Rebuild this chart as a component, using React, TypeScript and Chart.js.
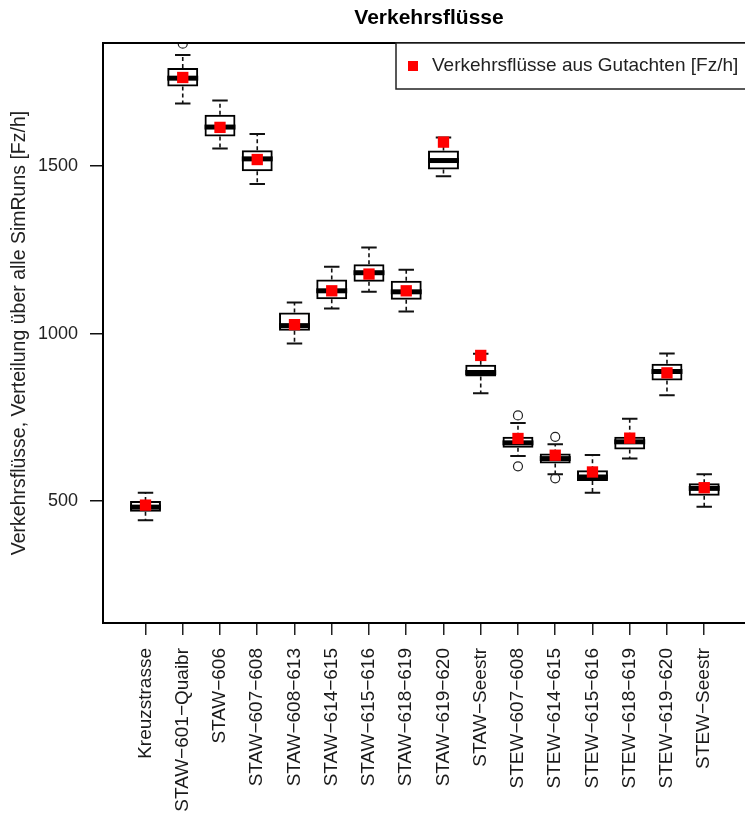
import React, { useEffect, useRef } from "react";
import { Chart, registerables } from "chart.js";

Chart.register(...registerables);

// ---------- data ----------
const categories = [
  "Kreuzstrasse",
  "STAW\u2212601\u2212Quaibr",
  "STAW\u2212606",
  "STAW\u2212607\u2212608",
  "STAW\u2212608\u2212613",
  "STAW\u2212614\u2212615",
  "STAW\u2212615\u2212616",
  "STAW\u2212618\u2212619",
  "STAW\u2212619\u2212620",
  "STAW\u2212Seestr",
  "STEW\u2212607\u2212608",
  "STEW\u2212614\u2212615",
  "STEW\u2212615\u2212616",
  "STEW\u2212618\u2212619",
  "STEW\u2212619\u2212620",
  "STEW\u2212Seestr",
];
const whiskerLow = [443, 1687, 1553, 1447, 971, 1075, 1125, 1066, 1470, 822, 635, 580, 525, 627, 816, 483];
const q1 = [468, 1738, 1589, 1485, 1009, 1103, 1155, 1101, 1490, 872, 659, 612, 560, 654, 860, 516];
const median = [482, 1763, 1617, 1522, 1024, 1128, 1182, 1125, 1517, 884, 674, 627, 572, 677, 887, 538];
const q3 = [500, 1793, 1654, 1548, 1063, 1162, 1207, 1158, 1547, 907, 692, 642, 592, 692, 910, 553];
const whiskerHigh = [525, 1832, 1696, 1596, 1093, 1200, 1257, 1191, 1586, 940, 733, 670, 638, 746, 941, 580];
const gutachten = [488, 1765, 1616, 1520, 1027, 1128, 1178, 1128, 1572, 935, 687, 637, 587, 688, 883, 540];
const outlierCategory = [1, 10, 10, 11, 11];
const outlierValue = [1866, 756, 604, 692, 568];
const yTicks = [500, 1000, 1500];

const titleText = "Verkehrsflüsse";
const yTitleText = "Verkehrsflüsse, Verteilung über alle SimRuns [Fz/h]";
const legendText = "Verkehrsflüsse aus Gutachten [Fz/h]";

const FONT = "'Liberation Sans', Arial, Helvetica, sans-serif";

const boxPlugin = {
  id: "boxExtras",
  beforeDatasetsDraw(chart: any) {
    const { ctx } = chart;
    const x = chart.scales.x;
    const y = chart.scales.y;
    const meta = chart.getDatasetMeta(0);
    ctx.save();
    categories.forEach((_, i) => {
      const bar: any = meta.data[i];
      const cx = x.getPixelForValue(i);
      const half = bar.width / 2;
      const capHalf = half / 2;
      const yq1 = y.getPixelForValue(q1[i]);
      const yq3 = y.getPixelForValue(q3[i]);
      const ylo = y.getPixelForValue(whiskerLow[i]);
      const yhi = y.getPixelForValue(whiskerHigh[i]);
      const ymed = y.getPixelForValue(median[i]);
      // dashed whiskers
      ctx.strokeStyle = "#111";
      ctx.lineWidth = 1.6;
      ctx.setLineDash([4, 3]);
      ctx.beginPath();
      ctx.moveTo(cx, yq3);
      ctx.lineTo(cx, yhi);
      ctx.moveTo(cx, yq1);
      ctx.lineTo(cx, ylo);
      ctx.stroke();
      // caps
      ctx.setLineDash([]);
      ctx.lineWidth = 2;
      ctx.beginPath();
      ctx.moveTo(cx - capHalf, yhi);
      ctx.lineTo(cx + capHalf, yhi);
      ctx.moveTo(cx - capHalf, ylo);
      ctx.lineTo(cx + capHalf, ylo);
      ctx.stroke();
      // median
      ctx.lineWidth = 5;
      ctx.strokeStyle = "#000";
      ctx.beginPath();
      ctx.moveTo(cx - half, ymed);
      ctx.lineTo(cx + half, ymed);
      ctx.stroke();
    });
    ctx.restore();
  },
  afterDraw(chart: any) {
    const { ctx, chartArea } = chart;
    const { left, top, bottom, right } = chartArea;
    ctx.save();
    // plot frame (right edge lies beyond the canvas)
    ctx.strokeStyle = "#000";
    ctx.lineWidth = 2;
    ctx.beginPath();
    ctx.moveTo(right + 20, top);
    ctx.lineTo(left, top);
    ctx.lineTo(left, bottom);
    ctx.lineTo(right + 20, bottom);
    ctx.stroke();

    // title
    ctx.fillStyle = "#000";
    ctx.font = `bold 21px ${FONT}`;
    ctx.textAlign = "center";
    ctx.textBaseline = "middle";
    ctx.fillText(titleText, 429, 18);

    // y-axis title
    ctx.save();
    ctx.translate(20, (top + bottom) / 2);
    ctx.rotate(-Math.PI / 2);
    ctx.font = `19.5px ${FONT}`;
    ctx.fillStyle = "#222";
    ctx.textAlign = "center";
    ctx.textBaseline = "middle";
    ctx.fillText(yTitleText, 0, 0);
    ctx.restore();

    // legend
    const lx = 396;
    const ly = top;
    const lh = 46;
    ctx.fillStyle = "#fff";
    ctx.fillRect(lx, ly, right - lx + 20, lh);
    ctx.strokeStyle = "#222";
    ctx.lineWidth = 1.5;
    ctx.strokeRect(lx, ly, right - lx + 20, lh);
    ctx.fillStyle = "#ff0000";
    ctx.fillRect(408, ly + lh / 2 - 5, 10, 10);
    ctx.fillStyle = "#222";
    ctx.font = `19px ${FONT}`;
    ctx.textAlign = "left";
    ctx.textBaseline = "middle";
    ctx.fillText(legendText, 432, ly + lh / 2);
    ctx.restore();
  },
};

export default function App() {
  const ref = useRef<HTMLCanvasElement | null>(null);

  useEffect(() => {
    document.body.style.margin = "0";
    const canvas = ref.current;
    if (!canvas) return;
    const chart = new Chart(canvas, {
      type: "bar",
      data: {
        datasets: [
          {
            type: "bar",
            label: "box",
            data: categories.map((_, i) => ({ x: i, y: [q1[i], q3[i]] })) as any,
            backgroundColor: "rgba(0,0,0,0)",
            borderColor: "#000",
            borderWidth: 2,
            borderSkipped: false,
            categoryPercentage: 1,
            barPercentage: 0.83,
            order: 3,
          } as any,
          {
            type: "scatter",
            label: "outliers",
            data: outlierValue.map((v, k) => ({ x: outlierCategory[k], y: v })),
            pointStyle: "circle",
            pointRadius: 4.5,
            backgroundColor: "rgba(0,0,0,0)",
            borderColor: "#222",
            borderWidth: 1.2,
            order: 2,
          } as any,
          {
            type: "scatter",
            label: legendText,
            data: gutachten.map((v, i) => ({ x: i, y: v })),
            pointStyle: "rect",
            pointRadius: 8,
            backgroundColor: "#ff0000",
            borderWidth: 0,
            order: 1,
          } as any,
        ],
      },
      options: {
        responsive: false,
        animation: false,
        layout: { padding: { top: 43, left: 0, right: 0, bottom: 0 } },
        plugins: {
          legend: { display: false },
          title: { display: false },
          tooltip: { enabled: false },
        },
        scales: {
          x: {
            type: "linear",
            min: -1.141,
            max: 15.88,
            offset: false,
            border: { display: false },
            grid: {
              offset: false,
              drawOnChartArea: false,
              drawTicks: true,
              tickLength: 12,
              color: "#222",
              lineWidth: 1.5,
            },
            afterBuildTicks: (scale: any) => {
              scale.ticks = categories.map((_, i) => ({ value: i }));
            },
            afterFit: (scale: any) => {
              scale.height = 193;
            },
            ticks: {
              autoSkip: false,
              maxRotation: 90,
              minRotation: 90,
              padding: 13,
              color: "#1a1a1a",
              font: { family: FONT, size: 19 },
              callback: (v: any) => categories[Math.round(Number(v))] ?? "",
            },
          },
          y: {
            type: "linear",
            min: 136,
            max: 1868,
            border: { display: false },
            grid: {
              drawOnChartArea: false,
              drawTicks: true,
              tickLength: 13,
              color: "#111",
              lineWidth: 1.5,
            },
            afterBuildTicks: (scale: any) => {
              scale.ticks = yTicks.map((v) => ({ value: v }));
            },
            afterFit: (scale: any) => {
              scale.width = 103;
            },
            ticks: {
              padding: 12,
              color: "#222",
              font: { family: FONT, size: 18 },
              callback: (v: any) => String(v),
            },
          },
        },
      },
      plugins: [boxPlugin],
    });
    return () => chart.destroy();
  }, []);

  return (
    <div style={{ width: 745, height: 816 }}>
      <canvas ref={ref} width={745} height={816} style={{ display: "block" }} />
    </div>
  );
}
